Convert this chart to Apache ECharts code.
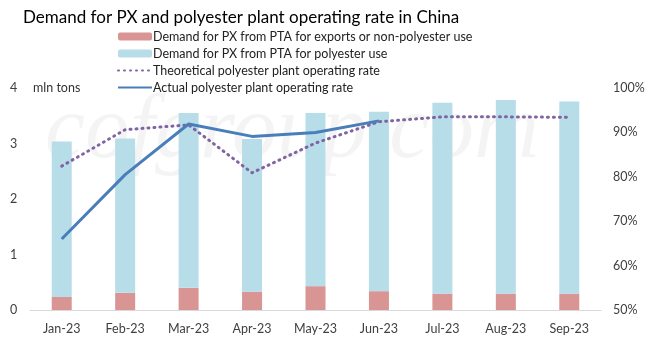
<!DOCTYPE html>
<html><head><meta charset="utf-8">
<script src="https://cdn.jsdelivr.net/npm/echarts@6/dist/echarts.min.js"></script>
<style>html,body{margin:0;padding:0;background:#fff}#c{width:649px;height:342px}</style>
</head><body><div id="c"></div>
<script>
const categories = ['Jan-23','Feb-23','Mar-23','Apr-23','May-23','Jun-23','Jul-23','Aug-23','Sep-23'];
const exportDemand = [0.235,0.31,0.40,0.33,0.43,0.34,0.295,0.295,0.295];
const polyesterDemand = [2.80,2.78,3.15,2.75,3.12,3.23,3.44,3.49,3.46];
const theoreticalRate = [82.4,90.6,91.7,80.9,87.6,92.4,93.5,93.5,93.4];
const actualRate = [66.0,80.5,91.9,89.1,90.0,92.6,null,null,null];
const leftTicks = [0,1,2,3,4];
const rightTicks = [50,60,70,80,90,100];

const FONT = 'Lato, "Open Sans", sans-serif';
const names = ['Demand for PX from PTA for exports or non-polyester use','Demand for PX from PTA for polyester use','Theoretical polyester plant operating rate','Actual polyester plant operating rate'];
const chart = echarts.init(document.getElementById('c'));
chart.setOption({
  animation:false,
  textStyle:{fontFamily:FONT},
  title:{text:'Demand for PX and polyester plant operating rate in China',left:18,top:4,
    textStyle:{fontSize:17,fontWeight:'normal',color:'#000',fontFamily:FONT}},
  graphic:[
    {type:'text',left:33,top:81,style:{text:'mln tons',fontSize:12.5,fill:'#333',fontFamily:FONT}},
    {type:'text',left:45,top:88,z:-10,style:{text:'cofgroup.com',fontSize:90,fontStyle:'italic',fill:'rgba(0,0,0,0.045)',fontFamily:'"Liberation Serif", serif'}}
  ],
  legend:{orient:'vertical',left:112,top:25,itemWidth:34,itemHeight:8,itemGap:4,
    textStyle:{fontSize:12.5,color:'#222',fontFamily:FONT,padding:[0,0,0,-4]},
    data:[
      {name:names[0]},{name:names[1]},
      {name:names[2],itemStyle:{opacity:0}},
      {name:names[3],itemStyle:{opacity:0}}
    ]},
  grid:{left:30,right:48,top:88,bottom:32},
  xAxis:{type:'category',data:categories,
    axisLine:{lineStyle:{color:'#d9d9d9'}},axisTick:{show:false},
    axisLabel:{color:'#404040',fontSize:12.5,margin:12}},
  yAxis:[
    {type:'value',min:leftTicks[0],max:leftTicks[leftTicks.length-1],interval:1,
      splitLine:{show:false},axisLine:{show:false},axisTick:{show:false},
      axisLabel:{color:'#404040',fontSize:12.5,margin:14,align:'left',padding:[0,0,0,-6]}},
    {type:'value',min:rightTicks[0],max:rightTicks[rightTicks.length-1],interval:10,
      splitLine:{show:false},axisLine:{show:false},axisTick:{show:false},
      axisLabel:{color:'#404040',fontSize:12.5,margin:12,formatter:'{value}%'}}
  ],
  series:[
    {name:names[0],type:'bar',stack:'d',barWidth:20,itemStyle:{color:'#d99594'},data:exportDemand},
    {name:names[1],type:'bar',stack:'d',barWidth:20,itemStyle:{color:'#b7dde8'},data:polyesterDemand},
    {name:names[2],type:'line',yAxisIndex:1,symbol:'none',
      lineStyle:{color:'#8064a2',width:3,type:[1,5],cap:'round'},itemStyle:{color:'#8064a2'},data:theoreticalRate},
    {name:names[3],type:'line',yAxisIndex:1,symbol:'none',
      lineStyle:{color:'#4a7ebb',width:3},itemStyle:{color:'#4a7ebb'},data:actualRate}
  ]
});
</script></body></html>
